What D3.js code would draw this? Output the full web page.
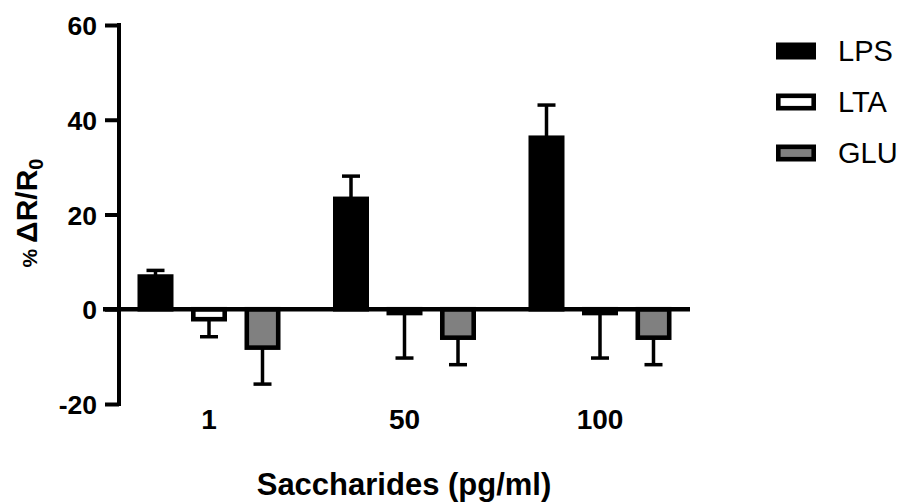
<!DOCTYPE html>
<html>
<head>
<meta charset="utf-8">
<script src="https://cdn.jsdelivr.net/npm/d3@7"></script>
<style>
  body { margin: 0; background: #fff; }
  text { font-family: "Liberation Sans", Arial, sans-serif; fill: #000; }
</style>
</head>
<body>
<svg id="chart" width="903" height="504"></svg>
<script>
// Response (% ΔR/R0) by saccharide and concentration, mean and error
const categories = ["1", "50", "100"];
const seriesNames = ["LPS", "LTA", "GLU"];
const lpsMean = [6.9, 23.3, 36.2];
const lpsErr  = [1.3, 4.8, 6.9];
const ltaMean = [-2.1, -0.8, -0.8];
const ltaErr  = [3.7, 9.5, 9.5];
const gluMean = [-8.1, -6.0, -6.0];
const gluErr  = [7.7, 5.7, 5.7];
const yTicks  = [-20, 0, 20, 40, 60];
const seriesFill = ["#000000", "#ffffff", "#808080"];

const seriesData = [
  { name: seriesNames[0], mean: lpsMean, err: lpsErr, fill: seriesFill[0] },
  { name: seriesNames[1], mean: ltaMean, err: ltaErr, fill: seriesFill[1] },
  { name: seriesNames[2], mean: gluMean, err: gluErr, fill: seriesFill[2] }
];

const rows = [];
seriesData.forEach(s => categories.forEach((c, i) => {
  rows.push({ cat: c, series: s.name, value: s.mean[i], err: s.err[i], fill: s.fill });
}));

const svg = d3.select("#chart");

const y = d3.scaleLinear().domain([-20, 60]).range([404, 25]);
const x0 = d3.scaleBand().domain(categories).range([111.25, 697.75]).padding(0);
const x1 = d3.scaleBand().domain(seriesNames)
  .range([-80.25, 80.25]).paddingInner(0.327).paddingOuter(0.1635);
const groupCenter = c => x0(c) + x0.bandwidth() / 2;

const axisX = 119;
const barStroke = 4.6;
const errStroke = 3.5;
const capHalf = 9;

// error bars (drawn first so bars sit on top)
const eb = svg.append("g").attr("stroke", "#000").attr("stroke-width", errStroke);
rows.forEach(d => {
  const cx = groupCenter(d.cat) + x1(d.series) + x1.bandwidth() / 2;
  const end = d.value >= 0 ? d.value + d.err : d.value - d.err;
  eb.append("line").attr("x1", cx).attr("x2", cx)
    .attr("y1", y(d.value)).attr("y2", y(end));
  eb.append("line").attr("x1", cx - capHalf).attr("x2", cx + capHalf)
    .attr("y1", y(end)).attr("y2", y(end));
});

// bars
svg.append("g").selectAll("rect").data(rows).join("rect")
  .attr("x", d => groupCenter(d.cat) + x1(d.series) + barStroke / 2)
  .attr("width", x1.bandwidth() - barStroke)
  .attr("y", d => y(Math.max(0, d.value)))
  .attr("height", d => Math.abs(y(d.value) - y(0)))
  .attr("fill", d => d.fill)
  .attr("stroke", "#000")
  .attr("stroke-width", barStroke);

// y axis
const yAxis = svg.append("g")
  .attr("transform", `translate(${axisX},0)`)
  .call(d3.axisLeft(y).tickValues(yTicks).tickFormat(d => String(d))
    .tickSize(14).tickSizeOuter(0).tickPadding(8));
yAxis.select(".domain").attr("stroke-width", 4).attr("d", `M0,${y(60) - 2}V${y(-20) + 2}`);
yAxis.selectAll(".tick line").attr("stroke-width", 4);
yAxis.selectAll(".tick text")
  .style("font-size", "26.5px").style("font-weight", "bold")
  .attr("dy", "0.36em");

// x axis (baseline at zero) with category labels below the plot
const xAxis = svg.append("g")
  .attr("transform", `translate(0,${y(0)})`)
  .call(d3.axisBottom(x0).tickSize(0).tickPadding(100));
xAxis.select(".domain").remove();
xAxis.selectAll(".tick text")
  .style("font-size", "28px").style("font-weight", "bold");
svg.append("line")
  .attr("x1", 103).attr("x2", 690)
  .attr("y1", y(0)).attr("y2", y(0))
  .attr("stroke", "#000").attr("stroke-width", 4.5);

// axis titles
svg.append("text")
  .attr("x", 404).attr("y", 495)
  .attr("text-anchor", "middle")
  .style("font-size", "31px").style("font-weight", "bold")
  .text("Saccharides (pg/ml)");

const yt = svg.append("text")
  .attr("transform", "translate(37,213) rotate(-90)")
  .attr("text-anchor", "middle")
  .style("font-weight", "bold");
yt.append("tspan").style("font-size", "21px").text("% ");
yt.append("tspan").style("font-size", "30px").text("ΔR/R");
yt.append("tspan").style("font-size", "20px").attr("dy", "6").text("0");

// legend
const legend = svg.append("g");
seriesData.forEach((s, i) => {
  const cy = 51 + i * 51;
  legend.append("rect")
    .attr("x", 776 + barStroke / 2).attr("y", cy - 8.5 + barStroke / 2)
    .attr("width", 40 - barStroke).attr("height", 17 - barStroke)
    .attr("fill", s.fill).attr("stroke", "#000").attr("stroke-width", barStroke);
  legend.append("text")
    .attr("x", 838).attr("y", cy).attr("dy", "0.36em")
    .style("font-size", "29px")
    .text(s.name);
});
</script>
</body>
</html>
